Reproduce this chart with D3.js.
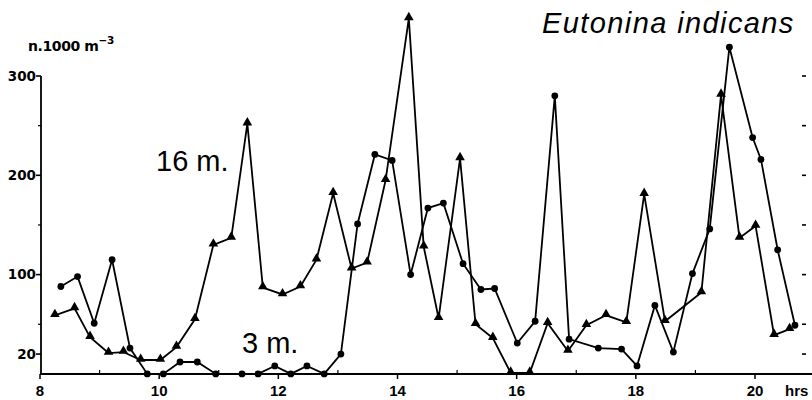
<!DOCTYPE html>
<html>
<head>
<meta charset="utf-8">
<script src="https://cdn.jsdelivr.net/npm/d3@7"></script>
<style>
  body { margin: 0; background: #fff; }
</style>
</head>
<body>
<div id="chart"></div>
<script>
// hours of day and counts (n.1000 m-3)
var hours3 = [8.35, 8.63, 8.91, 9.21, 9.51, 9.80, 10.07, 10.35, 10.64, 10.95, 11.39, 11.66, 11.94, 12.21,
    12.48, 12.77, 13.05, 13.33, 13.62, 13.91, 14.22, 14.51, 14.77, 15.10, 15.40, 15.63, 16.01, 16.31,
    16.64, 16.88, 17.37, 17.76, 18.02, 18.32, 18.63, 18.95, 19.24, 19.57, 19.96, 20.10, 20.38, 20.67];
var values3 = [88, 98, 51, 115, 26, 0, 0, 12, 12, 0, 0, 0, 8, 0,
    8, 0, 20, 151, 221, 215, 100, 167, 172, 111, 85, 86, 31, 53,
    280, 35, 26, 25, 8, 69, 22, 101, 146, 329, 238, 216, 125, 49];

var hours16 = [8.25, 8.58, 8.84, 9.15, 9.40, 9.69, 10.02, 10.29, 10.60, 10.91, 11.21, 11.48, 11.74, 12.07,
    12.37, 12.64, 12.92, 13.23, 13.49, 13.80, 14.19, 14.44, 14.69, 15.05, 15.31, 15.60, 15.90, 16.22,
    16.52, 16.86, 17.17, 17.50, 17.84, 18.14, 18.49, 19.10, 19.43, 19.74, 20.01, 20.32, 20.58];
var values16 = [59, 66, 37, 21, 22, 14, 14, 27, 55, 130, 137, 252, 87, 80,
    88, 115, 182, 106, 112, 195, 358, 128, 56, 217, 50, 36, 1, 1,
    51, 23, 49, 59, 52, 181, 53, 82, 281, 137, 149, 39, 45];

var yLabelTicks = [20, 100, 200, 300];
var yMinorTicks = [50, 150, 250];
var xLabelTicks = [8, 10, 12, 14, 16, 18, 20];
var xMinorTicks = [9, 11, 13, 15, 17, 19];

var svgWidth = 812;
var svgHeight = 400;

var x = d3.scaleLinear().domain([8, 20]).range([40, 755]);
var y = d3.scaleLinear().domain([0, 300]).range([373.9, 76]);

var svg = d3.select("#chart").append("svg")
    .attr("width", svgWidth)
    .attr("height", svgHeight);

// left axis line + ticks
svg.append("line")
    .attr("x1", 41).attr("x2", 41)
    .attr("y1", y(0)).attr("y2", y(300))
    .attr("stroke", "black").attr("stroke-width", 1.8);

svg.selectAll("line.ymaj")
    .data(yLabelTicks)
    .enter().append("line")
        .attr("class", "ymaj")
        .attr("x1", 36).attr("x2", 41)
        .attr("y1", function(d){ return y(d); })
        .attr("y2", function(d){ return y(d); })
        .attr("stroke", "black").attr("stroke-width", 1.6);

svg.selectAll("line.ymin")
    .data(yMinorTicks)
    .enter().append("line")
        .attr("class", "ymin")
        .attr("x1", 38).attr("x2", 41)
        .attr("y1", function(d){ return y(d); })
        .attr("y2", function(d){ return y(d); })
        .attr("stroke", "black").attr("stroke-width", 1.2);

svg.selectAll("text.ylab")
    .data(yLabelTicks)
    .enter().append("text")
        .attr("class", "ylab")
        .attr("x", 36)
        .attr("y", function(d){ return y(d); })
        .attr("dy", "0.36em")
        .attr("text-anchor", "end")
        .style("font", "bold 13.5px 'DejaVu Sans'")
        .text(function(d){ return d; });

// right side ticks (no labels)
svg.selectAll("line.yright")
    .data(yLabelTicks.concat(yMinorTicks))
    .enter().append("line")
        .attr("class", "yright")
        .attr("x1", 802).attr("x2", 806)
        .attr("y1", function(d){ return y(d); })
        .attr("y2", function(d){ return y(d); })
        .attr("stroke", "black").attr("stroke-width", 1.6);

// bottom axis
svg.append("line")
    .attr("x1", 40).attr("x2", 812)
    .attr("y1", 374).attr("y2", 374)
    .attr("stroke", "black").attr("stroke-width", 1.8);

svg.selectAll("line.xmaj")
    .data(xLabelTicks)
    .enter().append("line")
        .attr("class", "xmaj")
        .attr("x1", function(d){ return x(d); })
        .attr("x2", function(d){ return x(d); })
        .attr("y1", 374).attr("y2", 379)
        .attr("stroke", "black").attr("stroke-width", 1.5);

svg.selectAll("line.xmin")
    .data(xMinorTicks)
    .enter().append("line")
        .attr("class", "xmin")
        .attr("x1", function(d){ return x(d); })
        .attr("x2", function(d){ return x(d); })
        .attr("y1", 370).attr("y2", 374)
        .attr("stroke", "black").attr("stroke-width", 1.2);

svg.selectAll("text.xlab")
    .data(xLabelTicks)
    .enter().append("text")
        .attr("class", "xlab")
        .attr("x", function(d){ return x(d); })
        .attr("y", 396)
        .attr("text-anchor", "middle")
        .style("font", "bold 15px 'Liberation Sans'")
        .text(function(d){ return d; });

svg.append("text")
    .attr("x", 785).attr("y", 396)
    .style("font", "bold 15px 'Liberation Sans'")
    .text("hrs");

// unit label
var unit = svg.append("text")
    .attr("x", 28).attr("y", 51)
    .style("font", "bold 14px 'DejaVu Sans'")
    .style("letter-spacing", "-0.4px");
unit.append("tspan").text("n.1000 m");
unit.append("tspan")
    .attr("dy", -7)
    .style("font-size", "10.5px")
    .text("\u22123");

// title
svg.append("text")
    .attr("x", 542).attr("y", 33)
    .style("font", "italic 29px 'Liberation Sans'")
    .style("letter-spacing", "1.4px")
    .text("Eutonina indicans");

svg.append("text")
    .attr("x", 156).attr("y", 171)
    .style("font", "29px 'Liberation Sans'")
    .text("16 m.");

svg.append("text")
    .attr("x", 242).attr("y", 353)
    .style("font", "29px 'Liberation Sans'")
    .text("3 m.");

// series
var series3 = hours3.map(function(h, i){ return {h: h, v: values3[i]}; });
var series16 = hours16.map(function(h, i){ return {h: h, v: values16[i]}; });

var line = d3.line()
    .x(function(d){ return x(d.h); })
    .y(function(d){ return y(d.v); })
    .curve(d3.curveLinear);

var chartGroup = svg.append("g").attr("class", "group");

chartGroup.append("path")
    .datum(series16)
    .attr("fill", "none")
    .attr("stroke", "black")
    .attr("stroke-width", 1.8)
    .attr("d", line);

chartGroup.append("path")
    .datum(series3)
    .attr("fill", "none")
    .attr("stroke", "black")
    .attr("stroke-width", 1.8)
    .attr("d", line);

var triangle = d3.symbol().type(d3.symbolTriangle).size(40);

chartGroup.selectAll("path.tri")
    .data(series16)
    .enter().append("path")
        .attr("class", "tri")
        .attr("d", triangle)
        .attr("transform", function(d){ return "translate(" + x(d.h) + "," + (y(d.v) - 1) + ")"; })
        .attr("fill", "black");

chartGroup.selectAll("circle.dot")
    .data(series3)
    .enter().append("circle")
        .attr("class", "dot")
        .attr("cx", function(d){ return x(d.h); })
        .attr("cy", function(d){ return y(d.v); })
        .attr("r", 3.4)
        .attr("fill", "black");
</script>
</body>
</html>
